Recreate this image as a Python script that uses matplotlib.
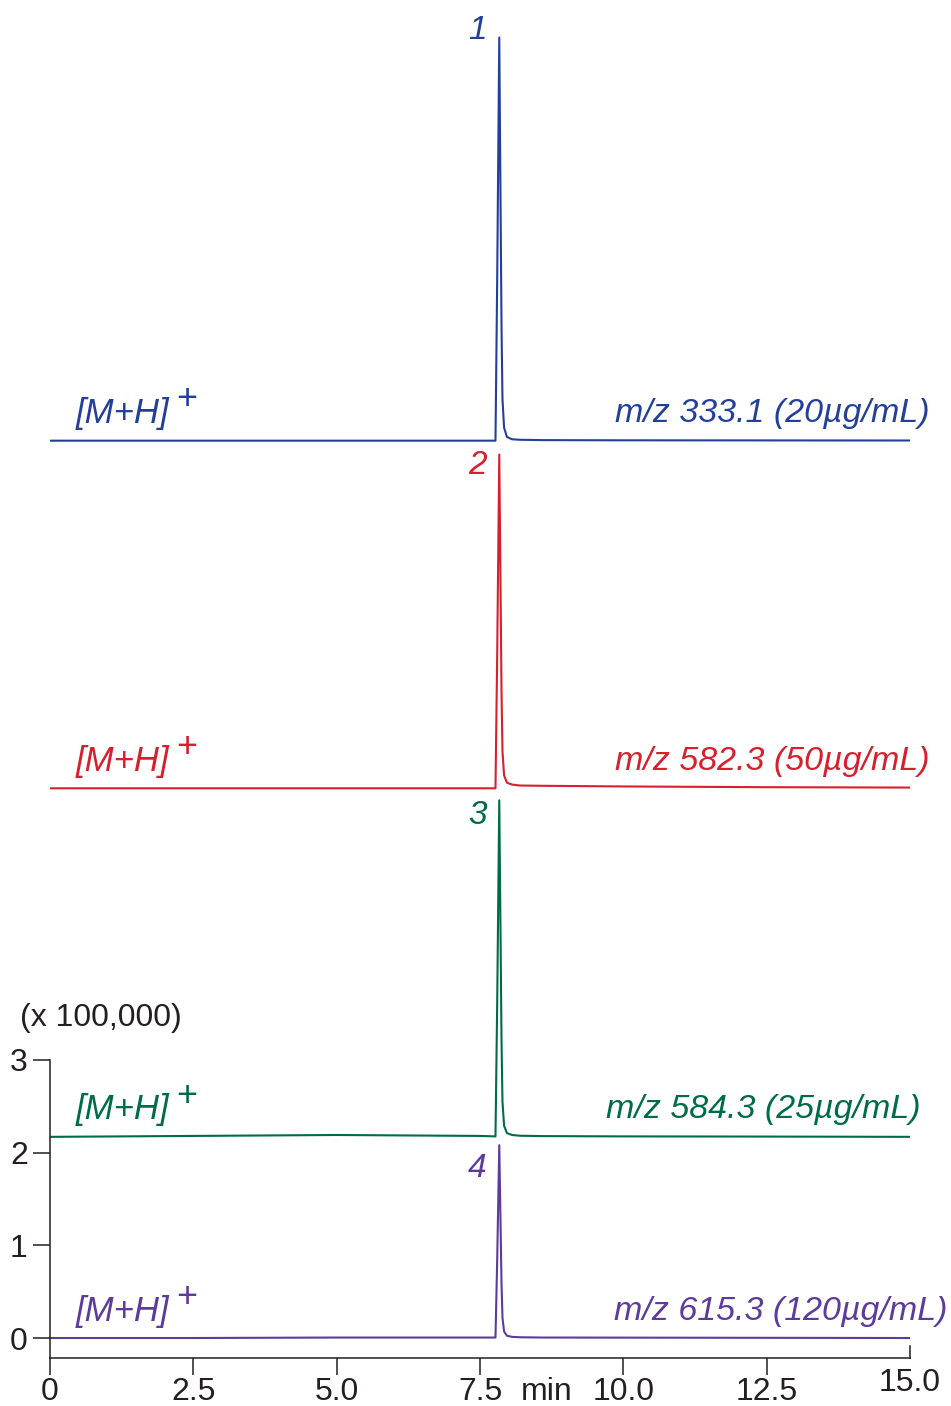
import matplotlib.pyplot as plt

plt.rcParams['font.family'] = ['Liberation Sans', 'DejaVu Sans']

# retention time (min), shared by all four traces
t = [0.0, 2.5, 5.0, 7.5, 7.77, 7.80, 7.836, 7.858, 7.875, 7.892, 7.92, 7.97,
     8.06, 8.2, 8.6, 10.0, 12.5, 15.0]

# intensities (x 100,000), relative to its own baseline
blue = [0, 0, 0, 0, 0, 1.75, 4.35, 2.6, 1.25, 0.45, 0.14, 0.04,
        0.015, 0.01, 0.006, 0.004, 0.003, 0.002]
red = [0, 0, 0, 0, 0, 1.45, 3.60, 2.2, 1.05, 0.40, 0.14, 0.06,
       0.04, 0.03, 0.027, 0.02, 0.012, 0.008]
green = [0, 0.01, 0.02, 0.01, 0.005, 1.45, 3.63, 2.2, 1.05, 0.38, 0.12, 0.04,
         0.02, 0.012, 0.008, 0.005, 0.003, 0.0]
purple = [0, 0, 0.005, 0.005, 0.005, 0.85, 2.08, 1.25, 0.6, 0.22, 0.07, 0.025,
          0.012, 0.008, 0.005, 0.004, 0.002, 0.0]

peak_names = ["1", "2", "3", "4"]
mz_labels = ["m/z 333.1 (20µg/mL)", "m/z 582.3 (50µg/mL)",
             "m/z 584.3 (25µg/mL)", "m/z 615.3 (120µg/mL)"]
x_ticks = [0, 2.5, 5.0, 7.5, 10.0, 12.5]
x_ticklabels = ["0", "2.5", "5.0", "7.5", "10.0", "12.5"]
y_ticks = [0, 1, 2, 3]

traces = [blue, red, green, purple]
colors = ["#22409a", "#d7202c", "#006b48", "#5d3b9c"]
offsets = [9.68, 5.93, 2.17, 0.0]
mz_right = [15.35, 15.35, 15.19, 15.66]
num_y = [14.11, 9.41, 5.64, 1.83]

fig = plt.figure(figsize=(9.51, 14.06), dpi=100)
ax = fig.add_axes([50/951, 48/1406, 860/951, 1358/1406])
ymin = -0.2157
ax.set_xlim(0, 15)
ax.set_ylim(ymin, 14.434)

for tr, c, off, name, lab, xr, ny in zip(traces, colors, offsets, peak_names,
                                         mz_labels, mz_right, num_y):
    ax.plot(t, [v + off for v in tr], color=c, lw=1.5, solid_joinstyle='round')
    ax.text(7.62, ny, name, color=c, fontsize=24, style='italic',
            ha='right', va='center')
    ax.text(0.45, off + 0.29, "[M+H]", color=c, fontsize=25, style='italic',
            ha='left', va='center')
    ax.text(2.39, off + 0.44, "+", color=c, fontsize=26, ha='center', va='center')
    ax.text(xr, off + 0.29, lab, color=c, fontsize=24.5, style='italic',
            ha='right', va='center')

for s in ['top', 'right']:
    ax.spines[s].set_visible(False)
ax.spines['left'].set_bounds(ymin, 3)
ax.spines['bottom'].set_bounds(0, 15)
for s in ['left', 'bottom']:
    ax.spines[s].set_color('#231f20')
    ax.spines[s].set_linewidth(1.1)

ax.set_yticks(y_ticks)
ax.set_xticks(x_ticks)
ax.set_xticklabels(x_ticklabels)
ax.tick_params(axis='both', direction='out', length=12, width=1.1,
               color='#231f20', labelsize=23, labelcolor='#231f20')
ax.tick_params(axis='x', pad=2)
ax.tick_params(axis='y', pad=4)

# upward end mark at 15.0
ax.plot([15, 15], [ymin, ymin + 0.13], color='#231f20', lw=1.1, clip_on=False)
ax.text(15.0, -0.49, "15.0", fontsize=23, color='#231f20', ha='center', va='center')
ax.text(8.67, -0.58, "min", fontsize=23, color='#231f20', ha='center', va='center')

fig.text(20/951, 1 - 1018/1406, "(x 100,000)", fontsize=23, color='#231f20',
         ha='left', va='center')

fig.savefig("out.png", dpi=100)
